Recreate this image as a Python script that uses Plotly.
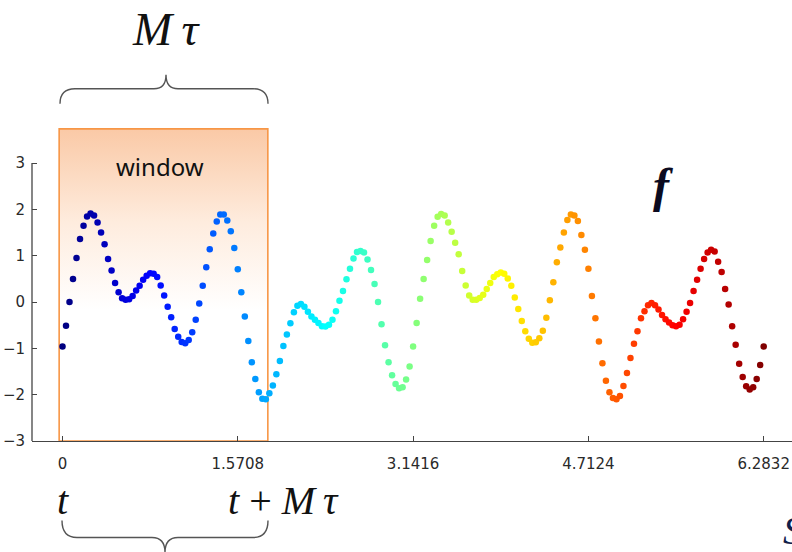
import numpy as np
import plotly.graph_objects as go

# ---------------- data ----------------
x_tick_vals = [0, 1.5708, 3.1416, 4.7124, 6.2832]
x_tick_text = ["0", "1.5708", "3.1416", "4.7124", "6.2832"]
y_tick_vals = [-3, -2, -1, 0, 1, 2, 3]

# f sampled at 201 evenly spaced instants on [0, 2*pi]
f_part1 = [-0.96, -0.51, 0.00, 0.50, 0.95, 1.36, 1.65, 1.85, 1.91, 1.87,
           1.72, 1.50, 1.25, 0.93, 0.68, 0.41, 0.21, 0.08, 0.05, 0.06,
           0.13, 0.25, 0.35, 0.48, 0.57, 0.62, 0.61, 0.54, 0.36, 0.14,
           -0.10, -0.33, -0.58, -0.75, -0.86, -0.89, -0.82, -0.65, -0.38, -0.03,
           0.35, 0.75, 1.14, 1.48, 1.74, 1.89, 1.89, 1.76, 1.53, 1.17]
f_part2 = [0.71, 0.21, -0.31, -0.84, -1.30, -1.66, -1.95, -2.09, -2.10, -1.97,
           -1.80, -1.56, -1.27, -0.95, -0.70, -0.46, -0.22, -0.08, -0.04, -0.10,
           -0.21, -0.31, -0.38, -0.45, -0.52, -0.53, -0.49, -0.38, -0.20, 0.03,
           0.24, 0.49, 0.72, 0.94, 1.08, 1.10, 1.07, 0.92, 0.69, 0.39,
           0.00, -0.48, -0.93, -1.30, -1.58, -1.77, -1.86, -1.84, -1.67, -1.39]
f_part3 = [-0.96, -0.45, 0.07, 0.50, 0.91, 1.32, 1.65, 1.84, 1.90, 1.87,
           1.72, 1.52, 1.28, 1.03, 0.67, 0.36, 0.14, 0.05, 0.05, 0.09,
           0.16, 0.28, 0.41, 0.54, 0.60, 0.64, 0.61, 0.51, 0.35, 0.10,
           -0.15, -0.41, -0.63, -0.79, -0.88, -0.87, -0.78, -0.62, -0.34, 0.04,
           0.43, 0.86, 1.18, 1.50, 1.77, 1.89, 1.87, 1.75, 1.45, 1.13]
f_part4 = [0.72, 0.13, -0.35, -0.85, -1.32, -1.70, -1.95, -2.07, -2.10, -2.03,
           -1.81, -1.53, -1.21, -0.90, -0.63, -0.35, -0.20, -0.07, -0.02, -0.07,
           -0.16, -0.28, -0.37, -0.44, -0.50, -0.52, -0.49, -0.37, -0.21, -0.02,
           0.24, 0.48, 0.72, 0.93, 1.07, 1.13, 1.09, 0.87, 0.65, 0.28,
           -0.05, -0.52, -0.92, -1.33, -1.62, -1.82, -1.89, -1.84, -1.66, -1.36,
           -0.96]

f_vals = f_part1 + f_part2 + f_part3 + f_part4
t_vals = np.linspace(0, 2 * np.pi, len(f_vals))   # uniform sampling grid
color_index = list(range(len(f_vals)))

window_start = -0.03
window_end = 1.84

# ---------------- layout geometry (pixels) ----------------
W, H = 792, 552
L, R, T, B = 32, 792, 127.2, 440.7
Y_TOP = 3.78
WIN_TOP = 3.74
X_RANGE = [(L - 62.5) / 111.6, (R - 62.5) / 111.6]


def px_x(p):
    return (p - L) / (R - L)


def px_y(p):
    return (B - p) / (B - T)


def y_paper(v):
    return (v + 3) / (Y_TOP + 3)


jet = [[0.0, "rgb(0,0,128)"], [0.125, "rgb(0,0,255)"], [0.375, "rgb(0,255,255)"],
       [0.625, "rgb(255,255,0)"], [0.875, "rgb(255,0,0)"], [1.0, "rgb(128,0,0)"]]

fig = go.Figure()

# window rectangle with vertical gradient
fig.add_trace(go.Scatter(
    x=[window_start, window_end, window_end, window_start, window_start],
    y=[-3, -3, WIN_TOP, WIN_TOP, -3],
    mode="lines", fill="toself",
    line=dict(color="rgb(247,150,70)", width=1.6),
    fillgradient=dict(type="vertical", start=-3, stop=WIN_TOP,
                      colorscale=[[0.0, "rgb(255,255,255)"], [0.42, "rgb(255,255,255)"],
                                  [0.7, "rgb(254,236,222)"], [1.0, "rgb(250,201,166)"]]),
    hoverinfo="skip", showlegend=False))

# the time series
fig.add_trace(go.Scatter(
    x=t_vals, y=f_vals, mode="markers",
    marker=dict(size=6.5, color=color_index, colorscale=jet, cmin=0,
                cmax=len(f_vals) - 1, line=dict(width=0)),
    showlegend=False))

tick_font = dict(family="DejaVu Sans", size=15, color="#2a2a2a")

fig.update_layout(
    width=W, height=H,
    margin=dict(l=L, r=W - R, t=T, b=H - B, autoexpand=False),
    paper_bgcolor="white", plot_bgcolor="white",
    xaxis=dict(range=X_RANGE, showgrid=False, zeroline=False,
               showline=True, linecolor="#444", linewidth=1.3,
               tickmode="array", tickvals=x_tick_vals, ticktext=x_tick_text,
               ticks="inside", ticklen=5, tickcolor="#444", tickwidth=1,
               tickfont=tick_font, ticklabelstandoff=9),
    yaxis=dict(range=[-3, Y_TOP], showgrid=False, zeroline=False,
               showline=False,
               tickmode="array", tickvals=y_tick_vals,
               ticks="inside", ticklen=5, tickcolor="#444", tickwidth=1,
               tickfont=tick_font, ticklabelstandoff=6),
)

# y axis line only from -3 to 3
shapes = [dict(type="line", xref="paper", yref="paper", x0=0, x1=0,
               y0=y_paper(-3), y1=y_paper(3), line=dict(color="#444", width=1.3))]


def brace_path(pts_cmds):
    out = []
    for cmd, coords in pts_cmds:
        vals = [f"{px_x(xx):.5f},{px_y(yy):.5f}" for (xx, yy) in coords]
        out.append(cmd + " " + " ".join(vals))
    return " ".join(out)


top_brace = brace_path([
    ("M", [(60, 104)]), ("Q", [(60, 89), (75, 89)]), ("L", [(154, 89)]),
    ("Q", [(166, 89), (166, 75)]), ("Q", [(166, 89), (178, 89)]),
    ("L", [(253, 89)]), ("Q", [(268, 89), (268, 104)])])
bottom_brace = brace_path([
    ("M", [(62, 520)]), ("Q", [(62, 537), (77, 537)]), ("L", [(152, 537)]),
    ("Q", [(165, 537), (165, 552)]), ("Q", [(165, 537), (178, 537)]),
    ("L", [(253, 537)]), ("Q", [(268, 537), (268, 520)])])
for p in (top_brace, bottom_brace):
    shapes.append(dict(type="path", xref="paper", yref="paper", path=p,
                       line=dict(color="#555", width=1.4)))
fig.update_layout(shapes=shapes)

serif = "Liberation Serif"
ann = [
    dict(text="<i>M\u2009τ</i>", px=166, py=29, size=47, family=serif, color="#111"),
    dict(text="window", px=160, py=167, size=24, family="Noto Sans", color="#111"),
    dict(text="<b><i>f</i></b>", px=663, py=186, size=48, family=serif, color="#0b0b20"),
    dict(text="<i>t</i>", px=63, py=500, size=40, family=serif, color="#111"),
    dict(text="<i>t</i> + <i>M\u2009τ</i>", px=283, py=500, size=40, family=serif, color="#111"),
]
for a in ann:
    fig.add_annotation(x=px_x(a["px"]), y=px_y(a["py"]), xref="paper", yref="paper",
                       text=a["text"], showarrow=False, xanchor="center", yanchor="middle",
                       font=dict(family=a["family"], size=a["size"], color=a["color"]))
fig.add_annotation(x=px_x(781), y=px_y(530), xref="paper", yref="paper",
                   text="<i>S</i>", showarrow=False, xanchor="left", yanchor="middle",
                   font=dict(family=serif, size=40, color="#10204a"))

fig.write_html("out.html",
               config={"displayModeBar": False},
               post_script="document.body.style.margin='0';"
                           "document.body.style.overflow='hidden';")
